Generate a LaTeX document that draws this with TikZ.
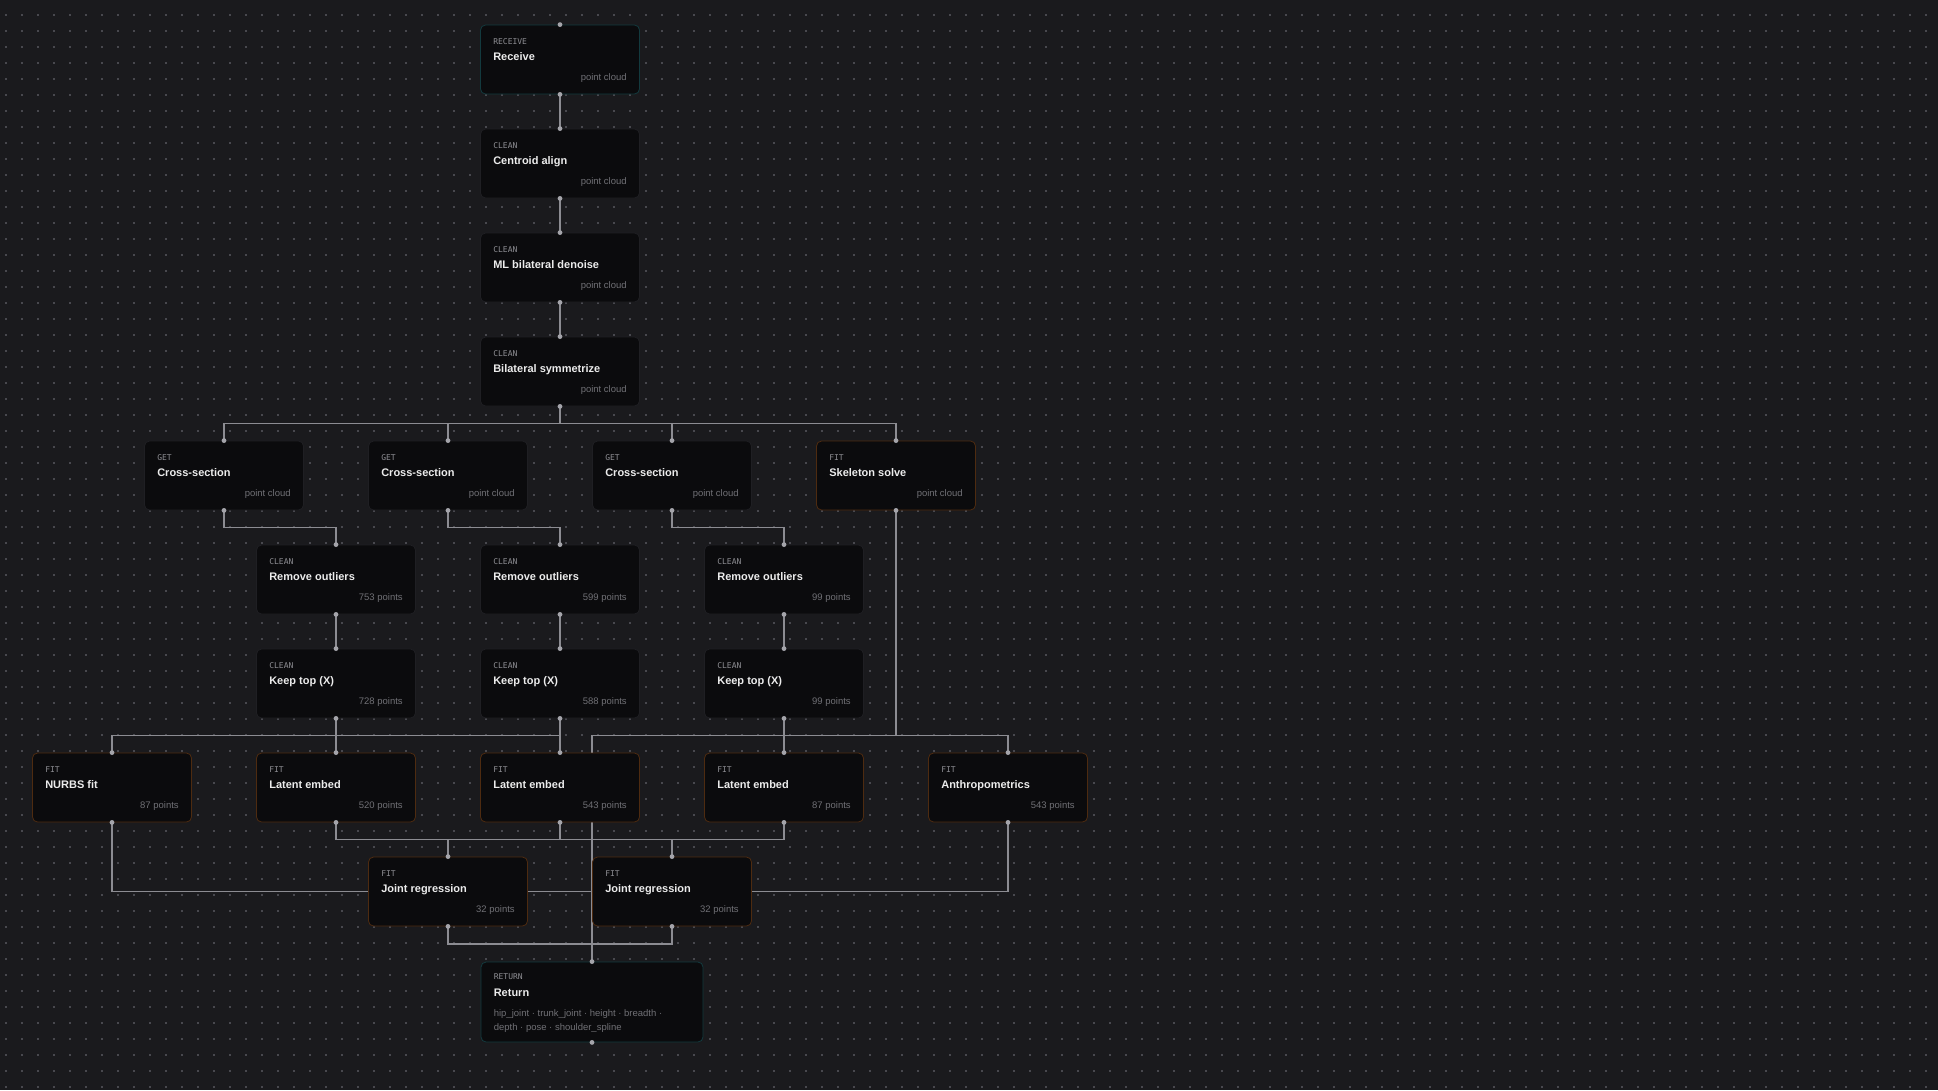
\documentclass[tikz,border=0pt]{standalone}
\usepackage{fontspec}
\setmainfont{Liberation Sans}
\setmonofont{DejaVu Sans Mono}
\usepackage{xcolor}
\usepackage{tikz}
\usetikzlibrary{calc, positioning}
\definecolor{kbg}{HTML}{1A1A1D}
\definecolor{kdot}{HTML}{48484E}
\definecolor{kbox}{HTML}{0B0B0D}
\definecolor{kedge}{HTML}{1F1F23}
\definecolor{kfit}{HTML}{4E2B10}
\definecolor{kteal}{HTML}{133A3E}
\definecolor{kwire}{HTML}{8C8C92}
\definecolor{kport}{HTML}{A4A4AA}
\definecolor{ktag}{HTML}{8E8E93}
\definecolor{ktitle}{HTML}{ECECEC}
\definecolor{knote}{HTML}{707075}
\pgfdeclarelayer{grid}
\pgfdeclarelayer{wires}
\pgfsetlayers{grid,wires,main}

\begin{document}
\begin{tikzpicture}[x=1pt, y=-1pt,
  stage/.style={fill=kbox, draw=kedge, line width=0.8pt, rounded corners=5pt,
    minimum width=159pt, minimum height=69pt, inner sep=0pt},
  fitstage/.style={stage, draw=kfit},
  iostage/.style={stage, draw=kteal},
  stagetag/.style={anchor=base west, inner sep=0pt, text=ktag, font=\ttfamily\fontsize{8}{9}\selectfont},
  stagename/.style={anchor=base west, inner sep=0pt, text=ktitle, font=\bfseries\fontsize{11}{13}\selectfont},
  stagenote/.style={anchor=base east, inner sep=0pt, text=knote, font=\fontsize{9.5}{12}\selectfont},
  wire/.style={draw=kwire, line width=1.4pt},
  port/.style={fill=kport}]
\useasboundingbox (0,0) rectangle (1938,1090);
\begin{pgfonlayer}{grid}
\fill[kbg] (0,0) rectangle (1938,1090);
\foreach \gy in {15,31,...,1090}
  \draw[kdot, line width=1.5pt, dash pattern=on 1.5pt off 14.5pt] (5.25,\gy) -- (1938,\gy);
\end{pgfonlayer}

% intake chain
\node[iostage] (rcv) at (560,59.5) {};
\node[stagetag] at ($(rcv.north west)+(13,19.5)$) {RECEIVE};
\node[stagename] at ($(rcv.north west)+(13,35.5)$) {Receive};
\node[stagenote] at ($(rcv.south east)+(-13,-13.5)$) {point cloud};
\node[stage] (cen) at (560,163.5) {};
\node[stagetag] at ($(cen.north west)+(13,19.5)$) {CLEAN};
\node[stagename] at ($(cen.north west)+(13,35.5)$) {Centroid align};
\node[stagenote] at ($(cen.south east)+(-13,-13.5)$) {point cloud};
\node[stage] (mld) at (560,267.5) {};
\node[stagetag] at ($(mld.north west)+(13,19.5)$) {CLEAN};
\node[stagename] at ($(mld.north west)+(13,35.5)$) {ML bilateral denoise};
\node[stagenote] at ($(mld.south east)+(-13,-13.5)$) {point cloud};
\node[stage] (sym) at (560,371.5) {};
\node[stagetag] at ($(sym.north west)+(13,19.5)$) {CLEAN};
\node[stagename] at ($(sym.north west)+(13,35.5)$) {Bilateral symmetrize};
\node[stagenote] at ($(sym.south east)+(-13,-13.5)$) {point cloud};

% sections and skeleton
\node[stage] (xs1) at (224,475.5) {};
\node[stagetag] at ($(xs1.north west)+(13,19.5)$) {GET};
\node[stagename] at ($(xs1.north west)+(13,35.5)$) {Cross-section};
\node[stagenote] at ($(xs1.south east)+(-13,-13.5)$) {point cloud};
\node[stage] (xs2) at (448,475.5) {};
\node[stagetag] at ($(xs2.north west)+(13,19.5)$) {GET};
\node[stagename] at ($(xs2.north west)+(13,35.5)$) {Cross-section};
\node[stagenote] at ($(xs2.south east)+(-13,-13.5)$) {point cloud};
\node[stage] (xs3) at (672,475.5) {};
\node[stagetag] at ($(xs3.north west)+(13,19.5)$) {GET};
\node[stagename] at ($(xs3.north west)+(13,35.5)$) {Cross-section};
\node[stagenote] at ($(xs3.south east)+(-13,-13.5)$) {point cloud};
\node[fitstage] (skel) at (896,475.5) {};
\node[stagetag] at ($(skel.north west)+(13,19.5)$) {FIT};
\node[stagename] at ($(skel.north west)+(13,35.5)$) {Skeleton solve};
\node[stagenote] at ($(skel.south east)+(-13,-13.5)$) {point cloud};

% outlier removal
\node[stage] (rmo1) at (336,579.5) {};
\node[stagetag] at ($(rmo1.north west)+(13,19.5)$) {CLEAN};
\node[stagename] at ($(rmo1.north west)+(13,35.5)$) {Remove outliers};
\node[stagenote] at ($(rmo1.south east)+(-13,-13.5)$) {753 points};
\node[stage] (rmo2) at (560,579.5) {};
\node[stagetag] at ($(rmo2.north west)+(13,19.5)$) {CLEAN};
\node[stagename] at ($(rmo2.north west)+(13,35.5)$) {Remove outliers};
\node[stagenote] at ($(rmo2.south east)+(-13,-13.5)$) {599 points};
\node[stage] (rmo3) at (784,579.5) {};
\node[stagetag] at ($(rmo3.north west)+(13,19.5)$) {CLEAN};
\node[stagename] at ($(rmo3.north west)+(13,35.5)$) {Remove outliers};
\node[stagenote] at ($(rmo3.south east)+(-13,-13.5)$) {99 points};

% keep top
\node[stage] (kt1) at (336,683.5) {};
\node[stagetag] at ($(kt1.north west)+(13,19.5)$) {CLEAN};
\node[stagename] at ($(kt1.north west)+(13,35.5)$) {Keep top (X)};
\node[stagenote] at ($(kt1.south east)+(-13,-13.5)$) {728 points};
\node[stage] (kt2) at (560,683.5) {};
\node[stagetag] at ($(kt2.north west)+(13,19.5)$) {CLEAN};
\node[stagename] at ($(kt2.north west)+(13,35.5)$) {Keep top (X)};
\node[stagenote] at ($(kt2.south east)+(-13,-13.5)$) {588 points};
\node[stage] (kt3) at (784,683.5) {};
\node[stagetag] at ($(kt3.north west)+(13,19.5)$) {CLEAN};
\node[stagename] at ($(kt3.north west)+(13,35.5)$) {Keep top (X)};
\node[stagenote] at ($(kt3.south east)+(-13,-13.5)$) {99 points};

% fits
\node[fitstage] (nurbs) at (112,787.5) {};
\node[stagetag] at ($(nurbs.north west)+(13,19.5)$) {FIT};
\node[stagename] at ($(nurbs.north west)+(13,35.5)$) {NURBS fit};
\node[stagenote] at ($(nurbs.south east)+(-13,-13.5)$) {87 points};
\node[fitstage] (lat1) at (336,787.5) {};
\node[stagetag] at ($(lat1.north west)+(13,19.5)$) {FIT};
\node[stagename] at ($(lat1.north west)+(13,35.5)$) {Latent embed};
\node[stagenote] at ($(lat1.south east)+(-13,-13.5)$) {520 points};
\node[fitstage] (lat2) at (560,787.5) {};
\node[stagetag] at ($(lat2.north west)+(13,19.5)$) {FIT};
\node[stagename] at ($(lat2.north west)+(13,35.5)$) {Latent embed};
\node[stagenote] at ($(lat2.south east)+(-13,-13.5)$) {543 points};
\node[fitstage] (lat3) at (784,787.5) {};
\node[stagetag] at ($(lat3.north west)+(13,19.5)$) {FIT};
\node[stagename] at ($(lat3.north west)+(13,35.5)$) {Latent embed};
\node[stagenote] at ($(lat3.south east)+(-13,-13.5)$) {87 points};
\node[fitstage] (anth) at (1008,787.5) {};
\node[stagetag] at ($(anth.north west)+(13,19.5)$) {FIT};
\node[stagename] at ($(anth.north west)+(13,35.5)$) {Anthropometrics};
\node[stagenote] at ($(anth.south east)+(-13,-13.5)$) {543 points};

% regressions
\node[fitstage] (jr1) at (448,891.5) {};
\node[stagetag] at ($(jr1.north west)+(13,19.5)$) {FIT};
\node[stagename] at ($(jr1.north west)+(13,35.5)$) {Joint regression};
\node[stagenote] at ($(jr1.south east)+(-13,-13.5)$) {32 points};
\node[fitstage] (jr2) at (672,891.5) {};
\node[stagetag] at ($(jr2.north west)+(13,19.5)$) {FIT};
\node[stagename] at ($(jr2.north west)+(13,35.5)$) {Joint regression};
\node[stagenote] at ($(jr2.south east)+(-13,-13.5)$) {32 points};

% output
\node[iostage, minimum width=222pt, minimum height=80pt] (ret) at (592,1002) {};
\node[stagetag] at ($(ret.north west)+(13,18)$) {RETURN};
\node[stagename] at ($(ret.north west)+(13,34.5)$) {Return};
\node[anchor=base west, inner sep=0pt, text=knote, align=left, font=\fontsize{9.5}{14}\selectfont]
  at ($(ret.north west)+(13,68.5)$) {hip\_joint · trunk\_joint · height · breadth ·\\depth · pose · shoulder\_spline};

% bus levels
\coordinate (busA) at (0,423.5);
\coordinate (busB) at (0,527.5);
\coordinate (busC) at (0,735.5);
\coordinate (busD) at (0,839.5);
\coordinate (busE) at (0,891.5);
\coordinate (busF) at (0,944);

\begin{pgfonlayer}{wires}
\draw[wire] (rcv.south) -- (cen.north);
\draw[wire] (cen.south) -- (mld.north);
\draw[wire] (mld.south) -- (sym.north);
\draw[wire] (sym.south) -- (sym.south|-busA) -| (xs1.north);
\draw[wire] (sym.south) -- (sym.south|-busA) -| (xs2.north);
\draw[wire] (sym.south) -- (sym.south|-busA) -| (xs3.north);
\draw[wire] (sym.south) -- (sym.south|-busA) -| (skel.north);
\draw[wire] (xs1.south) -- (xs1.south|-busB) -| (rmo1.north);
\draw[wire] (xs2.south) -- (xs2.south|-busB) -| (rmo2.north);
\draw[wire] (xs3.south) -- (xs3.south|-busB) -| (rmo3.north);
\draw[wire] (rmo1.south) -- (kt1.north);
\draw[wire] (rmo2.south) -- (kt2.north);
\draw[wire] (rmo3.south) -- (kt3.north);
\draw[wire] (kt1.south) -- (lat1.north);
\draw[wire] (kt2.south) -- (kt2.south|-busC) -| (nurbs.north);
\draw[wire] (kt2.south) -- (lat2.north);
\draw[wire] (kt3.south) -- (lat3.north);
\draw[wire] (skel.south) -- (skel.south|-busC) -| (anth.north);
\draw[wire] (skel.south) -- (skel.south|-busC) -| (ret.north);
\draw[wire] (lat1.south) -- (lat1.south|-busD) -| (jr1.north);
\draw[wire] (lat2.south) -- (lat2.south|-busD) -| (jr1.north);
\draw[wire] (lat2.south) -- (lat2.south|-busD) -| (jr2.north);
\draw[wire] (lat3.south) -- (lat3.south|-busD) -| (jr2.north);
\draw[wire] (nurbs.south) -- (nurbs.south|-busE) -| (ret.north);
\draw[wire] (anth.south) -- (anth.south|-busE) -| (ret.north);
\draw[wire] (jr1.south) -- (jr1.south|-busF) -| (ret.north);
\draw[wire] (jr2.south) -- (jr2.south|-busF) -| (ret.north);
\end{pgfonlayer}

% ports
\foreach \p in {rcv,cen,mld,sym,xs1,xs2,xs3,skel,rmo1,rmo2,rmo3,kt1,kt2,kt3,nurbs,lat1,lat2,lat3,anth,jr1,jr2,ret}
  \fill[port] (\p.north) circle (2.4pt) (\p.south) circle (2.4pt);
\end{tikzpicture}
\end{document}
